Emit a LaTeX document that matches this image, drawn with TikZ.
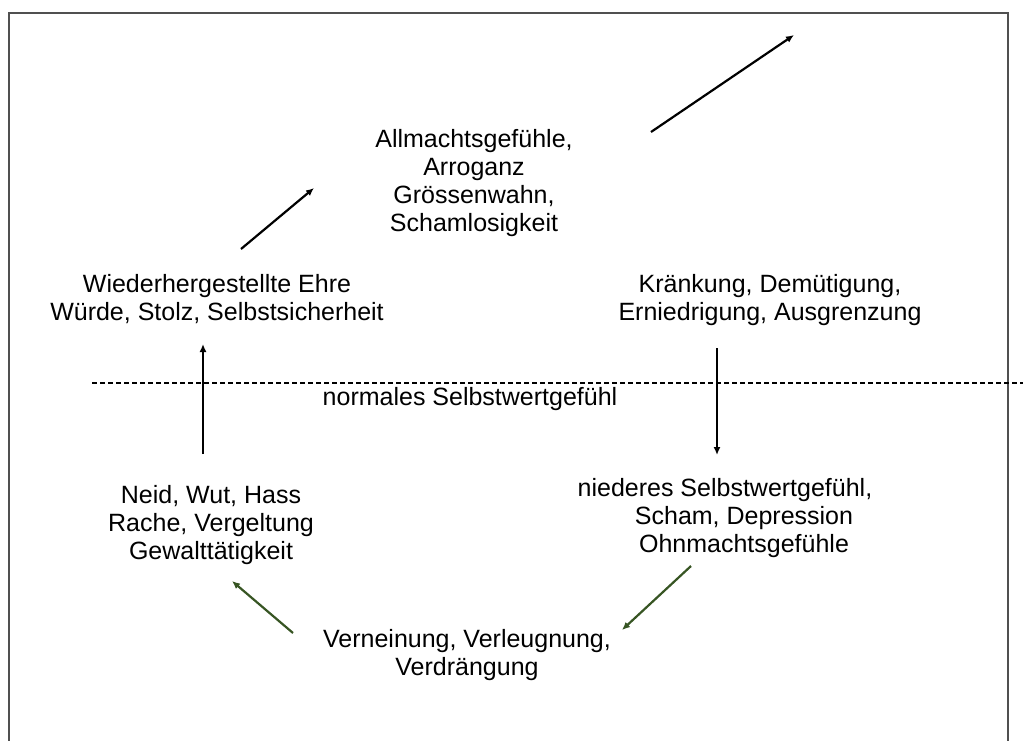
\documentclass[tikz,border=0pt]{standalone}
\usepackage{fontspec}
\setmainfont{Liberation Sans}
\usetikzlibrary{arrows.meta}
\definecolor{pfeilgruen}{RGB}{55,85,35}
\definecolor{rahmengrau}{RGB}{80,80,80}

\begin{document}
\begin{tikzpicture}[x=1pt,y=-1pt]

        \useasboundingbox (0,0) rectangle (1023,740);
        \draw[rahmengrau,line width=2.2pt] (9,760) |- (1008,13) -- (1008,760);

        \begin{scope}[every node/.style={align=center,font=\fontsize{25}{28}\selectfont}]
          \node (allmacht) at (474,183) {Allmachtsgefühle,\\Arroganz\\Grössenwahn,\\Schamlosigkeit};
          \node (ehre)     at (217,299) {Wiederhergestellte Ehre\\Würde, Stolz, Selbstsicherheit};
          \node (kraenk)   at (770,300) {Kränkung, Demütigung,\\Erniedrigung, Ausgrenzung};
          \node (normal)   at (470,399) {normales Selbstwertgefühl};
          \node (neid)     at (211,525) {Neid, Wut, Hass\\Rache, Vergeltung\\Gewalttätigkeit};
          \node (nieder)   at (744,518) {niederes Selbstwertgefühl,\hspace*{38pt}\\Scham, Depression\\Ohnmachtsgefühle};
          \node (vernein)  at (467,655) {Verneinung, Verleugnung,\\Verdrängung};
        \end{scope}

        \draw[dash pattern=on 5pt off 3pt,line width=1.3pt] (92,383) -- (1030,383);

        % Pfeil-Enden
        \coordinate (a1) at (241,249);
        \coordinate (a2) at (314,188);
        \coordinate (b1) at (651,132);
        \coordinate (b2) at (794,35);
        \coordinate (c1) at (717,348);
        \coordinate (c2) at (717,455);
        \coordinate (d1) at (691,566);
        \coordinate (d2) at (622,630);
        \coordinate (e1) at (293,633);
        \coordinate (e2) at (232,581);
        \coordinate (f1) at (203,454);
        \coordinate (f2) at (203,344);

        \begin{scope}[every path/.style={line width=2.2pt,-{Latex[length=8pt,width=7pt]}}]
          \draw (a1) -- (a2);
          \draw (b1) -- (b2);
          \draw (c1) -- (c2);
          \draw (f1) -- (f2);
          \draw[pfeilgruen] (d1) -- (d2);
          \draw[pfeilgruen] (e1) -- (e2);
        \end{scope}

      \end{tikzpicture}
\end{document}
